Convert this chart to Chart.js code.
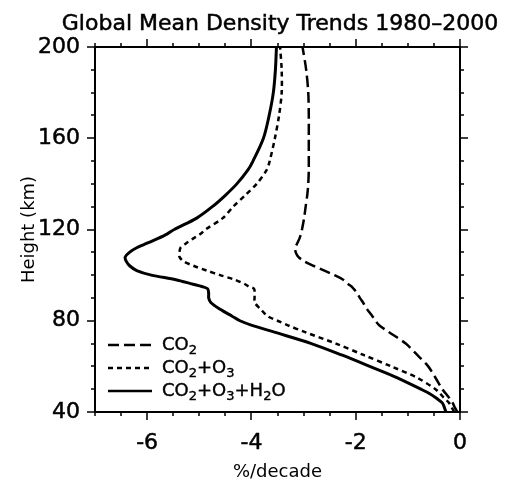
<!DOCTYPE html>
<html>
<head>
<meta charset="utf-8">
<script src="https://cdn.jsdelivr.net/npm/chart.js@4.4.0/dist/chart.umd.min.js"></script>
<style>
    html, body { margin: 0; padding: 0; background: #fff; }
</style>
</head>
<body>
<canvas id="density-chart" width="506" height="482"></canvas>
<script>
const chartTitle = 'Global Mean Density Trends 1980–2000'
const seriesLabels = ['CO2', 'CO2+O3', 'CO2+O3+H2O']

// height (km), shared by the three profiles
const heights = [40, 42, 44, 46, 48, 50, 55, 60, 65, 70, 75, 78, 80, 82, 85, 88, 90, 92, 94, 95,
    96, 98, 100, 102, 104, 106, 108, 110, 112, 114, 116, 118, 120, 125, 130, 135, 140, 146, 150,
    160, 170, 180, 190, 200]

// %/decade
const co2 = [-0.05, -0.10, -0.14, -0.20, -0.27, -0.34, -0.47, -0.61, -0.82, -1.04, -1.36, -1.55, -1.62, -1.68,
    -1.78, -1.86, -1.92, -1.97, -2.04, -2.08, -2.14, -2.24, -2.41, -2.60, -2.80, -2.98, -3.10, -3.15, -3.16,
    -3.12, -3.08, -3.05, -3.03, -2.99, -2.96, -2.93, -2.91, -2.90, -2.90, -2.90, -2.90, -2.91, -2.95, -3.02]
const co2O3 = [-0.11, -0.16, -0.21, -0.30, -0.38, -0.47, -0.82, -1.32, -1.85, -2.38, -2.97, -3.30, -3.50, -3.69,
    -3.82, -3.94, -3.94, -3.94, -3.95, -4.05, -4.12, -4.32, -4.60, -4.86, -5.10, -5.30, -5.38, -5.38, -5.36,
    -5.25, -5.12, -4.98, -4.88, -4.55, -4.35, -4.12, -3.90, -3.71, -3.65, -3.55, -3.47, -3.42, -3.42, -3.45]
const co2O3H2o = [-0.27, -0.30, -0.34, -0.45, -0.58, -0.75, -1.20, -1.73, -2.27, -2.85, -3.56, -3.99, -4.22, -4.37,
    -4.60, -4.78, -4.82, -4.82, -4.84, -4.95, -5.12, -5.45, -5.92, -6.20, -6.33, -6.40, -6.42, -6.34, -6.20,
    -6.00, -5.80, -5.62, -5.48, -5.05, -4.75, -4.50, -4.28, -4.07, -3.97, -3.77, -3.66, -3.58, -3.54, -3.52]

const xTicks = [-6, -4, -2, 0]
const yTicks = [40, 80, 120, 160, 200]

const dashes = [[11, 5], [5, 4], []]
const font = 'DejaVu Sans'

const toPoints = (vals) => vals.map((v, i) => ({ x: v, y: heights[i] }))

// title, frame with outward ticks, legend with subscripts
const decorPlugin = {
    id: 'decor',
    afterDraw(chart) {
        const ctx = chart.ctx
        const { left, right, top, bottom } = chart.chartArea
        const xs = chart.scales.x, ys = chart.scales.y
        ctx.save()
        ctx.fillStyle = '#000'
        ctx.strokeStyle = '#000'

        ctx.font = `22px "${font}"`
        ctx.textAlign = 'center'
        ctx.textBaseline = 'alphabetic'
        ctx.lineWidth = 0.5
        ctx.fillText(chartTitle, 280, 30)
        ctx.strokeText(chartTitle, 280, 30)

        ctx.lineWidth = 2
        ctx.strokeRect(left, top, right - left, bottom - top)

        ctx.lineWidth = 1.5
        ctx.beginPath()
        for (let v = xs.min; v <= xs.max + 0.001; v += 0.5) {
            const px = Math.round(xs.getPixelForValue(v))
            const len = xTicks.includes(v) ? 8 : 4
            ctx.moveTo(px, bottom); ctx.lineTo(px, bottom + len)
            ctx.moveTo(px, top); ctx.lineTo(px, top - len)
        }
        for (let v = ys.min; v <= ys.max; v += 10) {
            const py = Math.round(ys.getPixelForValue(v))
            const len = yTicks.includes(v) ? 8 : 4
            ctx.moveTo(left, py); ctx.lineTo(left - len, py)
            ctx.moveTo(right, py); ctx.lineTo(right + len, py)
        }
        ctx.stroke()

        // legend
        const rows = [345, 368, 391]
        chart.data.datasets.forEach((ds, i) => {
            const y = rows[i]
            ctx.lineWidth = 2.5
            ctx.setLineDash(dashes[i])
            ctx.beginPath()
            ctx.moveTo(108, y); ctx.lineTo(152, y)
            ctx.stroke()
            ctx.setLineDash([])
            let x = 162
            ctx.textAlign = 'left'
            ctx.textBaseline = 'middle'
            ctx.lineWidth = 0.4
            ds.label.split(/(\d)/).forEach(part => {
                if (!part) return
                const sub = /^\d$/.test(part)
                ctx.font = sub ? `13px "${font}"` : `18px "${font}"`
                ctx.fillText(part, x, sub ? y + 6 : y)
                ctx.strokeText(part, x, sub ? y + 6 : y)
                x += ctx.measureText(part).width
            })
        })
        ctx.restore()
    }
}

new Chart(document.getElementById('density-chart'), {
    type: 'line',
    data: {
        datasets: [co2, co2O3, co2O3H2o].map((vals, i) => ({
            label: seriesLabels[i],
            data: toPoints(vals),
            borderColor: '#000',
            borderWidth: i === 2 ? 3 : 2.5,
            borderDash: dashes[i],
            pointRadius: 0,
            tension: 0.3,
            fill: false
        }))
    },
    options: {
        responsive: false,
        animation: false,
        devicePixelRatio: 1,
        layout: { padding: { top: 47, right: 46, left: 0, bottom: 0 } },
        plugins: { legend: { display: false }, title: { display: false }, tooltip: { enabled: false } },
        scales: {
            x: {
                type: 'linear', min: -7, max: 0,
                afterBuildTicks: s => { s.ticks = xTicks.map(v => ({ value: v })) },
                afterFit: s => { s.height = 70 },
                grid: { display: false, drawTicks: false },
                border: { display: false },
                ticks: { color: '#000', font: { family: font, size: 22 }, padding: 18, maxRotation: 0,
                    textStrokeColor: '#000', textStrokeWidth: 0.5 },
                title: { display: true, text: '%/decade', color: '#000', font: { family: font, size: 18, lineHeight: 1 }, padding: { top: 0, bottom: 1 } }
            },
            y: {
                type: 'linear', min: 40, max: 200,
                afterBuildTicks: s => { s.ticks = yTicks.map(v => ({ value: v })) },
                afterFit: s => { s.width = 95 },
                grid: { display: false, drawTicks: false },
                border: { display: false },
                ticks: { color: '#000', font: { family: font, size: 22 }, padding: 15,
                    textStrokeColor: '#000', textStrokeWidth: 0.5 },
                title: { display: true, text: 'Height (km)', color: '#000', font: { family: font, size: 18, lineHeight: 1 }, padding: { top: 20, bottom: 0 } }
            }
        }
    },
    plugins: [decorPlugin]
})
</script>
</body>
</html>
